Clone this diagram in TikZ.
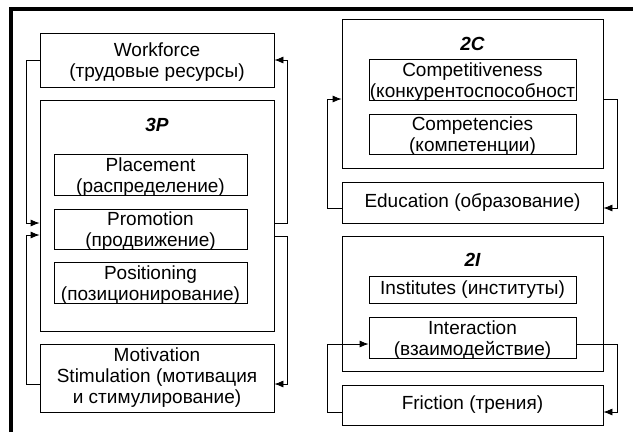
\documentclass[tikz,border=0pt]{standalone}
\usepackage{fontspec}
\setmainfont{Liberation Sans}
\usetikzlibrary{arrows.meta}
\begin{document}
\begin{tikzpicture}[x=1pt,y=-1pt,font=\fontsize{19}{21}\selectfont,
	box/.style={draw,line width=0.8pt,align=center,inner sep=0pt},
	inbox/.style={box},
	lowtext/.style={text height=35pt,text depth=0pt},
	flow/.style={line width=0.8pt,-{Latex[length=9pt,width=7pt]}},
	title/.style={font=\fontsize{19}{21}\selectfont\bfseries\itshape}]
\useasboundingbox (0,0) rectangle (633,432);

% frame
\draw[line width=4pt] (11,432) -- (11,9) -- (633,9);

% left column
\node[box,lowtext,minimum width=234pt,minimum height=54pt] (work) at (157,60) {Workforce\\(трудовые ресурсы)};
\node[box,minimum width=234pt,minimum height=231pt] (p3) at (157,215.5) {};
\node[title] (t3p) at (157,125) {3P};
\node[inbox,lowtext,minimum width=193pt,minimum height=41pt] (place) at (150.5,174.5) {Placement\\(распределение)};
\node[inbox,lowtext,minimum width=193pt,minimum height=40pt] (promo) at (150.5,229) {Promotion\\(продвижение)};
\node[inbox,lowtext,minimum width=193pt,minimum height=41pt] (posit) at (150.5,282.5) {Positioning\\(позиционирование)};
\node[box,minimum width=234pt,minimum height=68pt] (motiv) at (157,378) {Motivation\\Stimulation (мотивация\\и стимулирование)};

% right column
\node[box,minimum width=261pt,minimum height=149pt] (c2) at (472.5,93.5) {};
\node[title] (t2c) at (472.5,44) {2C};
\node[inbox,lowtext,minimum width=207pt,minimum height=41pt] (compet) at (472.5,79.5) {Competitiveness\\(конкурентоспособност};
\node[inbox,lowtext,minimum width=207pt,minimum height=40pt] (compc) at (472.5,134) {Competencies\\(компетенции)};
\node[box,minimum width=261pt,minimum height=41pt] (educ) at (472.5,202.5) {Education (образование)};

\node[box,minimum width=261pt,minimum height=135pt] (i2) at (472.5,303.5) {};
\node[title] (t2i) at (472.5,260) {2I};
\node[inbox,minimum width=207pt,minimum height=27pt] (inst) at (472.5,289.5) {Institutes (институты)};
\node[inbox,lowtext,minimum width=207pt,minimum height=41pt] (inter) at (472.5,337.5) {Interaction\\(взаимодействие)};
\node[box,minimum width=261pt,minimum height=40pt] (fric) at (472.5,405) {Friction (трения)};

% feedback loops
\draw[flow] (work.west) -- ++(-13,0) |- ([yshift=-7.5pt]p3.west);
\draw[flow] ([yshift=-6pt]motiv.west) -- ++(-13,0) |- ([yshift=-19.5pt]p3.west);
\draw[flow] ([yshift=-7.5pt]p3.east) -- ++(13,0) |- (work.east);
\draw[flow] ([yshift=-20.5pt]p3.east) -- ++(13,0) |- ([yshift=-6pt]motiv.east);

\draw[flow] ([yshift=-5.5pt]educ.west) -- ++(-14,0) |- ([yshift=-5.5pt]c2.west);
\draw[flow] ([yshift=-5.5pt]c2.east) -- ++(14,0) |- ([yshift=-5.5pt]educ.east);
\draw[flow] ([yshift=-7pt]fric.west) -- ++(-14,0) |- ([yshift=-6.5pt]inter.west);
\draw[flow] ([yshift=-6.5pt]inter.east) -- ++(41,0) |- ([yshift=-7pt]fric.east);

\end{tikzpicture}
\end{document}
